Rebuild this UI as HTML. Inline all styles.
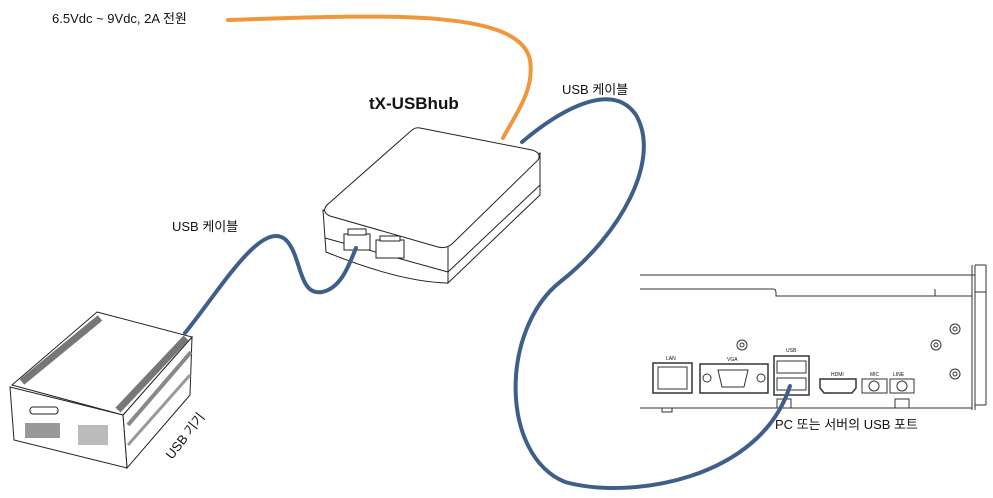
<!DOCTYPE html>
<html><head><meta charset="utf-8"><style>
html,body{margin:0;padding:0;background:#fff;width:993px;height:498px;overflow:hidden}
svg{display:block}
text{font-family:"Liberation Sans","Noto Sans CJK KR",sans-serif;fill:#111}
</style></head><body>
<svg width="993" height="498" viewBox="0 0 993 498">
<!-- PC chassis -->
<g fill="none" stroke="#333" stroke-width="1">
<line x1="640" y1="275" x2="975" y2="275"/>
<line x1="640" y1="289" x2="773" y2="289"/>
<path d="M773,289 Q776,289 776,293 L776,296 L972,296"/>
<line x1="935" y1="289" x2="935" y2="296"/>
<line x1="972" y1="265" x2="972" y2="410"/>
<line x1="975" y1="265" x2="975" y2="410"/>
<line x1="975" y1="265" x2="986" y2="265"/>
<line x1="986" y1="265" x2="986" y2="292"/>
<line x1="975" y1="292" x2="986" y2="292"/>
<line x1="986" y1="292" x2="986" y2="405"/>
<line x1="975" y1="405" x2="986" y2="405"/>
<line x1="640" y1="408" x2="972" y2="408"/>
<rect x="662" y="408" width="10" height="4"/>
<rect x="777" y="399" width="14" height="9"/>
<rect x="895" y="399" width="14" height="9"/>
<circle cx="742" cy="345" r="5"/><circle cx="742" cy="345" r="2"/>
<circle cx="936" cy="345" r="5"/><circle cx="936" cy="345" r="2"/>
<circle cx="955" cy="329" r="5"/><circle cx="955" cy="329" r="2"/>
<circle cx="955" cy="374" r="5"/><circle cx="955" cy="374" r="2"/>
<rect x="653" y="363" width="39" height="30" stroke-width="1.5"/>
<rect x="658" y="367" width="29" height="22"/>
<rect x="700" y="364" width="68" height="29" stroke-width="1.5"/>
<path d="M718,370 L748,370 L744,387 L722,387 Z"/>
<circle cx="707" cy="378" r="4"/><circle cx="761" cy="378" r="4"/>
<rect x="774" y="356" width="35" height="39" stroke-width="1.5"/>
<rect x="777" y="361" width="29" height="12"/>
<rect x="777" y="378" width="29" height="12"/>
<path d="M820,379 L856,379 L856,388 L852,393 L824,393 L820,388 Z" stroke-width="1.5"/>
<rect x="862" y="379" width="25" height="14"/><circle cx="874" cy="386" r="5"/>
<rect x="890" y="379" width="24" height="14"/><circle cx="902" cy="386" r="5"/>
</g>
<g font-size="5" >
<text x="666" y="360">LAN</text><text x="727" y="361">VGA</text><text x="786" y="352">USB</text>
<text x="831" y="376">HDMI</text><text x="870" y="376">MIC</text><text x="893" y="376">LINE</text>
</g>
<!-- Hub -->
<g fill="#fff" stroke="#222" stroke-width="1">
<path d="M448,283 L540,195 L540,153 L448,245 Z"/>
<path d="M323,210 L448,245 L448,283 Q400,282 326,252 Z"/>
<path d="M420,128 L532,150 Q542,153 538,160 L452,244 Q446,249 438,247 L330,216 Q321,212 327,205 L412,130 Q416,127 420,128 Z"/>
<line x1="325" y1="238" x2="448" y2="272"/>
<line x1="448" y1="272" x2="540" y2="185"/>
<rect x="344" y="234" width="26" height="16"/>
<rect x="376" y="240" width="28" height="18"/>
<rect x="348" y="229" width="18" height="6"/>
<rect x="380" y="236" width="20" height="5"/>
</g>
<!-- Device -->
<g stroke="#222" stroke-width="1">
<path d="M123,415 L192,337 L190,395 L127,468 Z" fill="#fff"/>
<path d="M128,425 L191,352" stroke="#888" stroke-width="4"/>
<path d="M128,445 L190,375" stroke="#999" stroke-width="3"/>
<path d="M97,312 L192,337 L123,415 L12,385 Z" fill="#fff"/>
<path d="M22,382 L100,318" stroke="#777" stroke-width="7"/>
<path d="M118,410 L186,338" stroke="#777" stroke-width="7"/>
<path d="M10,387 L123,415 L127,468 L14,440 Z" fill="#fff"/>
<rect x="30" y="407" width="28" height="7" rx="3" fill="#fff"/>
<rect x="25" y="423" width="35" height="15" fill="#999" stroke="none"/>
<rect x="78" y="425" width="30" height="20" fill="#bbb" stroke="none"/>
</g>
<!-- cables -->
<g fill="none" stroke-linecap="round">
<path d="M228,20 C380,15 520,8 530,60 C535,90 515,115 503,138" stroke="#f0963c" stroke-width="4"/>
<path d="M522,142 C560,110 612,80 636,115 C662,160 620,235 560,282 C500,330 500,455 565,482 C630,500 760,480 790,386" stroke="#3e5f8a" stroke-width="4"/>
<path d="M185,333 C220,290 262,218 286,240 C302,256 298,296 322,292 C342,288 350,262 356,248" stroke="#3e5f8a" stroke-width="4"/>
</g>
<text x="52" y="23" font-size="13">6.5Vdc ~ 9Vdc, 2A 전원</text>
<text x="369" y="109" font-size="17" font-weight="bold">tX-USBhub</text>
<text x="562" y="94" font-size="13">USB 케이블</text>
<text x="172" y="231" font-size="13">USB 케이블</text>
<text x="775" y="429" font-size="13">PC 또는 서버의 USB 포트</text>
<text x="172" y="460" font-size="13" transform="rotate(-52 172 460)">USB 기기</text>
</svg>
</body></html>
